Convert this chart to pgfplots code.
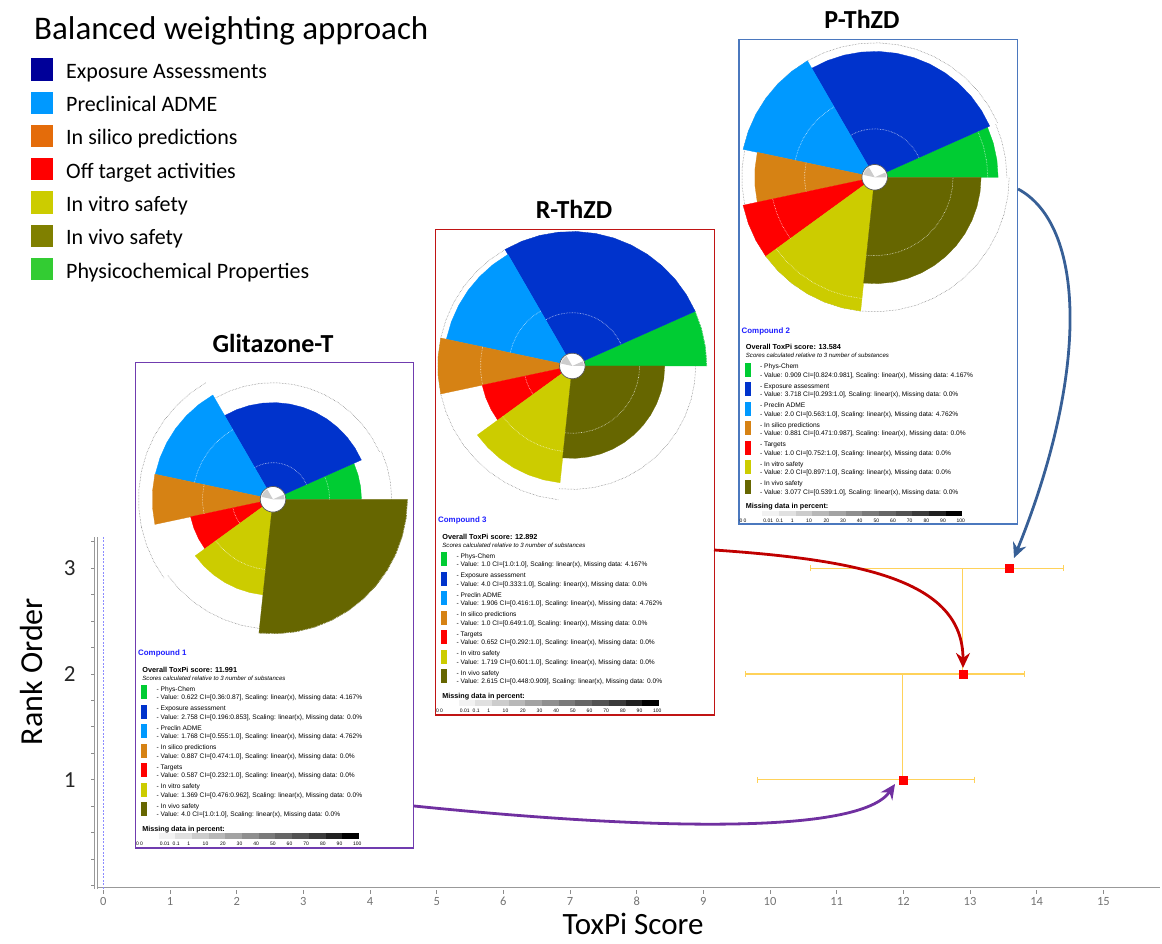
\documentclass[border=0pt]{standalone}
\usepackage{pgfplots}
\pgfplotsset{compat=1.18}
\usepgfplotslibrary{polar}
\usetikzlibrary{arrows.meta}
\usepackage{fontspec}
\setmainfont{Carlito}
\newfontfamily\arialf{Liberation Sans}

\definecolor{tpgreen}{RGB}{0,204,51}
\definecolor{tpblue}{RGB}{0,51,204}
\definecolor{tpadme}{RGB}{0,153,255}
\definecolor{tpsilico}{RGB}{214,130,20}
\definecolor{tptarget}{RGB}{255,0,0}
\definecolor{tpvitro}{RGB}{204,204,0}
\definecolor{tpvivo}{RGB}{102,102,0}
\definecolor{lgexpo}{RGB}{0,0,153}
\definecolor{lgadme}{RGB}{0,153,255}
\definecolor{lgsilico}{RGB}{228,108,10}
\definecolor{lgtarget}{RGB}{255,0,0}
\definecolor{lgvitro}{RGB}{204,204,0}
\definecolor{lgvivo}{RGB}{128,128,0}
\definecolor{lgphys}{RGB}{51,204,51}
\definecolor{errcol}{RGB}{255,210,90}
\definecolor{dashcol}{RGB}{140,140,255}
\definecolor{boxA}{RGB}{112,60,175}
\definecolor{boxB}{RGB}{192,20,20}
\definecolor{boxC}{RGB}{75,120,190}
\definecolor{arrA}{RGB}{112,48,160}
\definecolor{arrB}{RGB}{192,0,0}
\definecolor{arrC}{RGB}{55,95,150}
\definecolor{cmpblue}{RGB}{30,30,255}

\pgfplotsset{pieaxis/.style={anchor=center, width=269pt, height=269pt, scale only axis, hide axis,
  xmin=0, xmax=360, ymin=0, ymax=1, clip=false, y filter/.expression={0.095+0.905*y}}}

% ToxPi slices: radii = value / maximum (slice widths 1:4:2:1:1:2:4)
\newcommand{\toxpi}[7]{%
 \addplot[fill=tpgreen, draw=tpgreen, line width=0.3pt] coordinates {(0,0) (0,#1) (8,#1) (16,#1) (24,#1) (24,0)};
 \addplot[fill=tpblue, draw=tpblue, line width=0.3pt] coordinates {(24,0) (24,#2) (32,#2) (40,#2) (48,#2) (56,#2) (64,#2) (72,#2) (80,#2) (88,#2) (96,#2) (104,#2) (112,#2) (120,#2) (120,0)};
 \addplot[fill=tpadme, draw=tpadme, line width=0.3pt] coordinates {(120,0) (120,#3) (128,#3) (136,#3) (144,#3) (152,#3) (160,#3) (168,#3) (168,0)};
 \addplot[fill=tpsilico, draw=tpsilico, line width=0.3pt] coordinates {(168,0) (168,#4) (176,#4) (184,#4) (192,#4) (192,0)};
 \addplot[fill=tptarget, draw=tptarget, line width=0.3pt] coordinates {(192,0) (192,#5) (200,#5) (208,#5) (216,#5) (216,0)};
 \addplot[fill=tpvitro, draw=tpvitro, line width=0.3pt] coordinates {(216,0) (216,#6) (224,#6) (232,#6) (240,#6) (248,#6) (256,#6) (264,#6) (264,0)};
 \addplot[fill=tpvivo, draw=tpvivo, line width=0.3pt] coordinates {(264,0) (264,#7) (272,#7) (280,#7) (288,#7) (296,#7) (304,#7) (312,#7) (320,#7) (328,#7) (336,#7) (344,#7) (352,#7) (360,#7) (360,0)};
}
% confidence interval arcs
\newcommand{\toxarcs}[8]{%
 \addplot[#1] coordinates {(0,#2) (8,#2) (16,#2) (24,#2)};
 \addplot[#1] coordinates {(24,#3) (32,#3) (40,#3) (48,#3) (56,#3) (64,#3) (72,#3) (80,#3) (88,#3) (96,#3) (104,#3) (112,#3) (120,#3)};
 \addplot[#1] coordinates {(120,#4) (128,#4) (136,#4) (144,#4) (152,#4) (160,#4) (168,#4)};
 \addplot[#1] coordinates {(168,#5) (176,#5) (184,#5) (192,#5)};
 \addplot[#1] coordinates {(192,#6) (200,#6) (208,#6) (216,#6)};
 \addplot[#1] coordinates {(216,#7) (224,#7) (232,#7) (240,#7) (248,#7) (256,#7) (264,#7)};
 \addplot[#1] coordinates {(264,#8) (272,#8) (280,#8) (288,#8) (296,#8) (304,#8) (312,#8) (320,#8) (328,#8) (336,#8) (344,#8) (352,#8) (360,#8)};
}
\newcommand{\toxcenter}{%
 \addplot[fill=white, draw=none] coordinates {(0,0) (12,0) (24,0) (36,0) (48,0) (60,0) (72,0) (84,0) (96,0) (108,0) (120,0) (132,0) (144,0) (156,0) (168,0) (180,0) (192,0) (204,0) (216,0) (228,0) (240,0) (252,0) (264,0) (276,0) (288,0) (300,0) (312,0) (324,0) (336,0) (348,0)};
 \addplot[fill=black!20, draw=none] coordinates {(0,-0.105) (0,-0.01) (12,-0.01) (24,-0.01)};
 \addplot[fill=black!20, draw=none] coordinates {(120,-0.105) (120,-0.01) (132,-0.01) (144,-0.01) (156,-0.01) (168,-0.01)};
 \addplot[draw=black!65, line width=0.7pt] coordinates {(0,0) (12,0) (24,0) (36,0) (48,0) (60,0) (72,0) (84,0) (96,0) (108,0) (120,0) (132,0) (144,0) (156,0) (168,0) (180,0) (192,0) (204,0) (216,0) (228,0) (240,0) (252,0) (264,0) (276,0) (288,0) (300,0) (312,0) (324,0) (336,0) (348,0) (360,0)};
}
\tikzset{cihi/.style={black!55, densely dotted, line width=0.5pt},
         cilo/.style={white, densely dotted, line width=0.6pt, opacity=0.8}}

% text panel (relative px layout, y downwards)
\newcommand{\panelhead}[2]{%
 \node[anchor=base west, inner sep=0, text=cmpblue, font=\arialf\bfseries\fontsize{7.9}{8}\selectfont] at (2.5,293.5) {Compound #1};
 \node[anchor=base west, inner sep=0, font=\arialf\bfseries\fontsize{7.3}{8}\selectfont] at (6.7,309.8) {Overall ToxPi score: #2};
 \node[anchor=base west, inner sep=0, font=\arialf\itshape\fontsize{6.1}{7}\selectfont] at (6.7,317.8) {Scores calculated relative to 3 number of substances};
 \node[anchor=base west, inner sep=0, font=\arialf\bfseries\fontsize{7.2}{8}\selectfont] at (6.7,468.8) {Missing data in percent:};
 \foreach \i/\g in {0/5,1/12,2/20,3/28,4/36,5/44,6/52,7/60,8/68,9/77,10/87,11/100}
   \fill[black!\g] ({23.3+16.67*\i},471) rectangle ({23.3+16.67*(\i+1)},476.5);
 \foreach \xx/\t in {4/0 0,29.3/0.01,40.7/0.1,53.3/1,70/10,87.3/20,104/30,120.7/40,137.3/50,154/60,170.7/70,187.3/80,204/90,221.7/100}
   \node[anchor=base, inner sep=0, font=\arialf\fontsize{5}{5}\selectfont] at (\xx,483) {\t};
}
\newcommand{\tpentry}[7]{%
 \fill[#2] (5.7,{323+19.5*#1}) rectangle (11.7,{337+19.5*#1});
 \node[anchor=base west, inner sep=0, font=\arialf\fontsize{6.6}{7}\selectfont] at (21,{329+19.5*#1}) {- #3};
 \node[anchor=base west, inner sep=0, font=\arialf\fontsize{6.6}{7}\selectfont] at (21,{337.5+19.5*#1}) {- Value: #4 CI=[#5:#6], Scaling: linear(x), Missing data: #7\%};
}

\begin{document}
\begin{tikzpicture}[x=1pt,y=1pt]
\useasboundingbox (0,0) rectangle (1162,944);

% ---------------- main ranking axis ----------------
\begin{axis}[
  at={(96pt,55.3pt)}, anchor=south west,
  x=66.67pt, y=105.8pt,
  xmin=-0.11, xmax=15.85, ymin=-0.03, ymax=3.29,
  axis x line=bottom, axis y line=left,
  axis line style={-, draw=black!40, double=white, double distance=2pt, line width=0.6pt},
  tick align=outside,
  xtick={0,1,...,15},
  ytick={1,2,3},
  minor ytick={0,0.25,...,3.25},
  major tick length=5pt, minor tick length=5pt,
  tick style={black!45, line width=0.7pt},
  /pgf/number format/assume math mode=true,
  xticklabel style={font=\fontsize{12.5}{13}\selectfont, text=black!55},
  yticklabel style={font=\fontsize{23}{23}\selectfont, text=black!85, xshift=-12pt},
  xlabel={ToxPi Score}, ylabel={Rank Order},
  xlabel style={font=\fontsize{31}{31}\selectfont, at={(axis description cs:0.5,0)}, anchor=base, yshift=-46pt, xshift=5pt},
  ylabel style={font=\fontsize{32}{32}\selectfont, at={(axis description cs:-0.061,0.618)}, anchor=center},
  clip=false,
]
\addplot[dashcol, dash pattern=on 2pt off 1.5pt, line width=0.7pt] coordinates {(0,-0.03) (0,3.29)};
% links between consecutive ranks
\addplot[errcol, line width=1.2pt] coordinates {(12.892,2) (12.892,3)};
\addplot[errcol, line width=1.2pt] coordinates {(11.991,1) (11.991,2)};
% confidence intervals
\addplot[errcol, line width=1.2pt, {Bar[width=6pt]}-{Bar[width=6pt]}] coordinates {(10.60,3) (14.41,3)};
\addplot[errcol, line width=1.2pt, {Bar[width=6pt]}-{Bar[width=6pt]}] coordinates {(9.62,2) (13.83,2)};
\addplot[errcol, line width=1.2pt, {Bar[width=6pt]}-{Bar[width=6pt]}] coordinates {(9.80,1) (13.08,1)};
% ToxPi scores
\addplot[only marks, mark=square*, mark size=4pt, red] coordinates {(11.991,1) (12.892,2) (13.584,3)};
\end{axis}

% ---------------- boxes, titles and text panels ----------------
\begin{scope}[shift={(0pt,944pt)}, y=-1pt]
 \draw[boxA, line width=1.3pt, fill=white] (135.5,362.5) rectangle (413.5,848);
 \draw[boxB, line width=1.3pt, fill=white] (435.5,229.3) rectangle (714.7,715);
 \draw[boxC, line width=1.3pt, fill=white] (739,39.7) rectangle (1017.3,524);
 \node[anchor=base, inner sep=0, font=\bfseries\fontsize{26}{26}\selectfont] at (273,353) {Glitazone-T};
 \node[anchor=base, inner sep=0, font=\bfseries\fontsize{26}{26}\selectfont] at (574,219) {R-ThZD};
 \node[anchor=base, inner sep=0, font=\bfseries\fontsize{26}{26}\selectfont] at (862,29) {P-ThZD};

 \begin{scope}[shift={(135.5,362.5)}]
  \panelhead{1}{11.991}
  \tpentry{0}{tpgreen}{Phys-Chem}{0.622}{0.36}{0.87}{4.167}
  \tpentry{1}{tpblue}{Exposure assessment}{2.758}{0.196}{0.853}{0.0}
  \tpentry{2}{tpadme}{Preclin ADME}{1.768}{0.555}{1.0}{4.762}
  \tpentry{3}{tpsilico}{In silico predictions}{0.887}{0.474}{1.0}{0.0}
  \tpentry{4}{tptarget}{Targets}{0.587}{0.232}{1.0}{0.0}
  \tpentry{5}{tpvitro}{In vitro safety}{1.369}{0.476}{0.962}{0.0}
  \tpentry{6}{tpvivo}{In vivo safety}{4.0}{1.0}{1.0}{0.0}
 \end{scope}
 \begin{scope}[shift={(435.5,229.3)}]
  \panelhead{3}{12.892}
  \tpentry{0}{tpgreen}{Phys-Chem}{1.0}{1.0}{1.0}{4.167}
  \tpentry{1}{tpblue}{Exposure assessment}{4.0}{0.333}{1.0}{0.0}
  \tpentry{2}{tpadme}{Preclin ADME}{1.906}{0.416}{1.0}{4.762}
  \tpentry{3}{tpsilico}{In silico predictions}{1.0}{0.649}{1.0}{0.0}
  \tpentry{4}{tptarget}{Targets}{0.652}{0.292}{1.0}{0.0}
  \tpentry{5}{tpvitro}{In vitro safety}{1.719}{0.601}{1.0}{0.0}
  \tpentry{6}{tpvivo}{In vivo safety}{2.615}{0.448}{0.909}{0.0}
 \end{scope}
 \begin{scope}[shift={(739,39.7)}]
  \panelhead{2}{13.584}
  \tpentry{0}{tpgreen}{Phys-Chem}{0.909}{0.824}{0.981}{4.167}
  \tpentry{1}{tpblue}{Exposure assessment}{3.718}{0.293}{1.0}{0.0}
  \tpentry{2}{tpadme}{Preclin ADME}{2.0}{0.563}{1.0}{4.762}
  \tpentry{3}{tpsilico}{In silico predictions}{0.881}{0.471}{0.987}{0.0}
  \tpentry{4}{tptarget}{Targets}{1.0}{0.752}{1.0}{0.0}
  \tpentry{5}{tpvitro}{In vitro safety}{2.0}{0.897}{1.0}{0.0}
  \tpentry{6}{tpvivo}{In vivo safety}{3.077}{0.539}{1.0}{0.0}
 \end{scope}
\end{scope}

% ---------------- ToxPi pies ----------------
\begin{polaraxis}[pieaxis, at={(273pt,444.7pt)}]
 \toxarcs{cihi}{0.87}{0.853}{1.0}{1.0}{1.0}{0.962}{1.0}
 \toxpi{0.622}{0.6895}{0.884}{0.887}{0.587}{0.6845}{1.0}
 \toxarcs{cilo}{0.36}{0.196}{0.555}{0.474}{0.232}{0.476}{1.0}
 \toxcenter
\end{polaraxis}
\begin{polaraxis}[pieaxis, at={(572.3pt,578pt)}]
 \toxarcs{cihi}{1.0}{1.0}{1.0}{1.0}{1.0}{1.0}{0.909}
 \toxpi{1.0}{1.0}{0.953}{1.0}{0.652}{0.8595}{0.654}
 \toxarcs{cilo}{1.0}{0.333}{0.416}{0.649}{0.292}{0.601}{0.448}
 \toxcenter
\end{polaraxis}
\begin{polaraxis}[pieaxis, at={(874.7pt,766.7pt)}]
 \toxarcs{cihi}{0.981}{1.0}{1.0}{0.987}{1.0}{1.0}{1.0}
 \toxpi{0.909}{0.9295}{1.0}{0.881}{1.0}{1.0}{0.769}
 \toxarcs{cilo}{0.824}{0.293}{0.563}{0.471}{0.752}{0.897}{0.539}
 \toxcenter
\end{polaraxis}

% ---------------- arrows and colour key ----------------
\begin{scope}[shift={(0pt,944pt)}, y=-1pt]
 \draw[arrC, line width=2.8pt, -{Stealth[length=15pt,width=14pt,inset=5pt]}] (1018,189) .. controls (1085,225) and (1090,370) .. (1014,558);
 \draw[arrB, line width=2.8pt, -{Stealth[length=15pt,width=14pt,inset=5pt]}] (714,550) .. controls (860,560) and (963,580) .. (963,668);
 \draw[arrA, line width=2.8pt, -{Stealth[length=15pt,width=14pt,inset=5pt]}] (414,806) .. controls (650,830) and (860,835) .. (895,784);

 \node[anchor=base west, inner sep=0, font=\fontsize{33}{33}\selectfont] at (34,40) {Balanced weighting approach};
 \foreach \k/\c/\t in {0/lgexpo/Exposure Assessments,1/lgadme/Preclinical ADME,2/lgsilico/In silico predictions,3/lgtarget/Off target activities,4/lgvitro/In vitro safety,5/lgvivo/In vivo safety,6/lgphys/Physicochemical Properties}{
   \fill[\c] (31,{58.3+33.3*\k}) rectangle (53,{80.6+33.3*\k});
   \node[anchor=base west, inner sep=0, font=\fontsize{22}{22}\selectfont] at (66,{78.3+33.3*\k}) {\t};
 }
\end{scope}
\end{tikzpicture}
\end{document}
